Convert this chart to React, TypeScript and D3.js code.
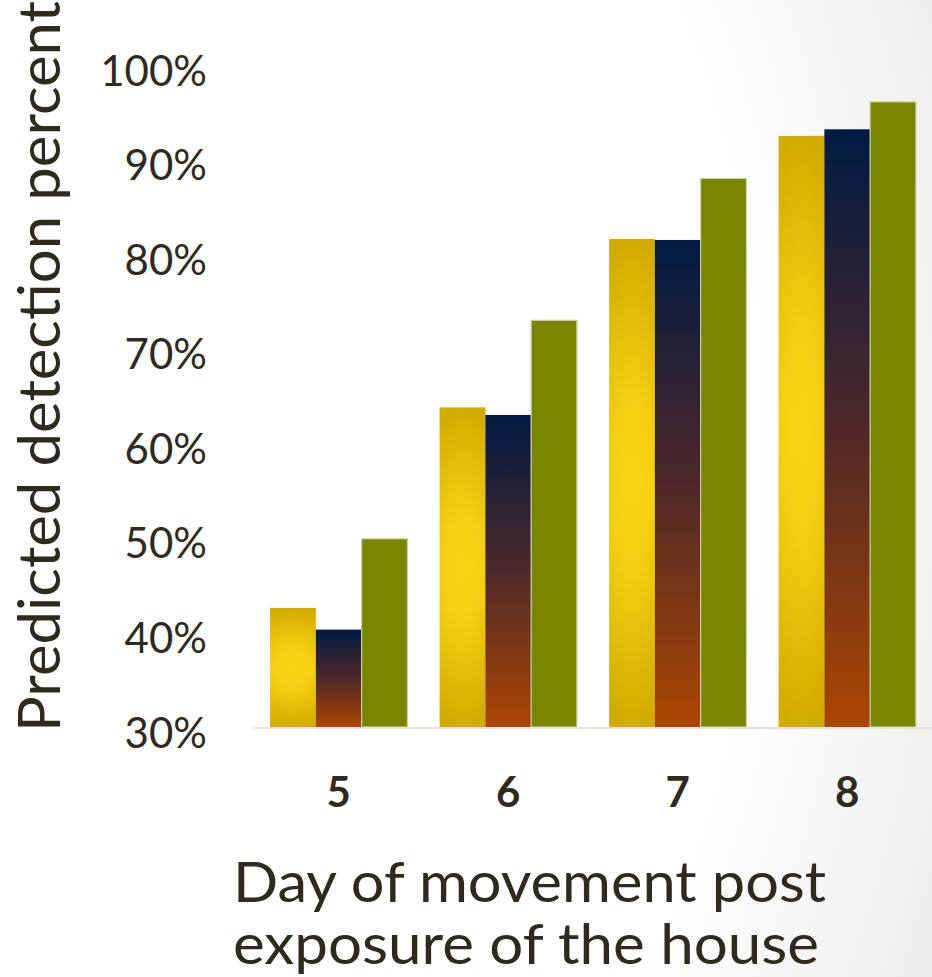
import React from "react";
import * as d3 from "d3";

// Day of movement after exposure (x categories)
const days = ["5", "6", "7", "8"];
// Predicted detection percent for the three modelled scenarios
const seriesGold = [42.6, 63.8, 81.6, 92.5];
const seriesNavy = [40.3, 63.0, 81.5, 93.2];
const seriesOlive = [49.9, 73.0, 88.0, 96.1];
const seriesKeys = ["gold", "navy", "olive"];
const yTicks = [30, 40, 50, 60, 70, 80, 90, 100];

const WIDTH = 932;
const HEIGHT = 977;
const TEXT = "#2f2a1f";
const FONT = "Lato, 'Open Sans', sans-serif";

export default function App() {
  const x0 = d3
    .scaleBand<string>()
    .domain(days)
    .range([254, 932])
    .paddingInner(0.19)
    .paddingOuter(0.095);
  const x1 = d3
    .scaleBand<string>()
    .domain(seriesKeys)
    .range([0, x0.bandwidth()])
    .padding(0);
  const y = d3.scaleLinear().domain([30, 100]).range([727, 65]);

  const valuesByKey: Record<string, number[]> = {
    gold: seriesGold,
    navy: seriesNavy,
    olive: seriesOlive,
  };
  const fillByKey: Record<string, string> = {
    gold: "url(#goldGlow)",
    navy: "url(#navyFade)",
    olive: "#778500",
  };

  return (
    <svg
      width={WIDTH}
      height={HEIGHT}
      style={{ position: "absolute", left: 0, top: 0, display: "block" }}
    >
      <defs>
        <radialGradient
          id="pageShade"
          gradientUnits="userSpaceOnUse"
          cx={250}
          cy={450}
          r={770}
          gradientTransform="translate(250 450) scale(1 1.57) translate(-250 -450)"
        >
          <stop offset="0.66" stopColor="#ffffff" />
          <stop offset="1" stopColor="#ececec" />
        </radialGradient>
        <radialGradient
          id="goldGlow"
          cx="0.5"
          cy="0.5"
          r="0.5"
          gradientTransform="translate(0.5 0.5) scale(2.5 1) translate(-0.5 -0.5)"
        >
          <stop offset="0" stopColor="#f8d514" />
          <stop offset="0.3" stopColor="#f7d213" />
          <stop offset="1" stopColor="#d2ab00" />
        </radialGradient>
        <linearGradient id="navyFade" x1="0" y1="0" x2="0" y2="1">
          <stop offset="0" stopColor="#001a42" />
          <stop offset="0.5" stopColor="#4e2829" />
          <stop offset="1" stopColor="#ac4600" />
        </linearGradient>
      </defs>

      <rect x={0} y={0} width={WIDTH} height={HEIGHT} fill="url(#pageShade)" />

      {/* bars */}
      {days.map((day, i) => (
        <g key={day} transform={`translate(${x0(day)},0)`}>
          {seriesKeys.map((key) => {
            const v = valuesByKey[key][i];
            const top = y(v);
            return (
              <rect
                key={key}
                x={x1(key)}
                y={top}
                width={x1.bandwidth()}
                height={y(30) - top}
                fill={fillByKey[key]}
                stroke={key === "olive" ? "#cdd0a4" : "none"}
                strokeWidth={key === "olive" ? 1.2 : 0}
              />
            );
          })}
        </g>
      ))}

      {/* category axis line */}
      <line x1={254} x2={932} y1={728} y2={728} stroke="#e6e2da" strokeWidth={2} />

      {/* y tick labels */}
      {yTicks.map((t) => (
        <text
          key={t}
          x={207}
          y={y(t) + 20.5}
          textAnchor="end"
          fontFamily={FONT}
          fontSize={42}
          fill={TEXT}
        >
          {`${t}%`}
        </text>
      ))}

      {/* x tick labels */}
      {days.map((day) => (
        <text
          key={day}
          x={(x0(day) as number) + x0.bandwidth() / 2}
          y={806.5}
          textAnchor="middle"
          fontFamily={FONT}
          fontWeight={700}
          fontSize={42}
          fill={TEXT}
        >
          {day}
        </text>
      ))}

      {/* y axis title */}
      <text
        transform="translate(60,732) rotate(-90)"
        x={0}
        y={0}
        fontFamily={FONT}
        fontSize={58}
        fill={TEXT}
        textLength={731}
        lengthAdjust="spacingAndGlyphs"
      >
        Predicted detection percent
      </text>

      {/* x axis title */}
      <text
        x={233}
        y={902}
        fontFamily={FONT}
        fontSize={56}
        fill={TEXT}
        textLength={593}
        lengthAdjust="spacingAndGlyphs"
      >
        Day of movement post
      </text>
      <text
        x={233}
        y={964}
        fontFamily={FONT}
        fontSize={56}
        fill={TEXT}
        textLength={586}
        lengthAdjust="spacingAndGlyphs"
      >
        exposure of the house
      </text>
    </svg>
  );
}
